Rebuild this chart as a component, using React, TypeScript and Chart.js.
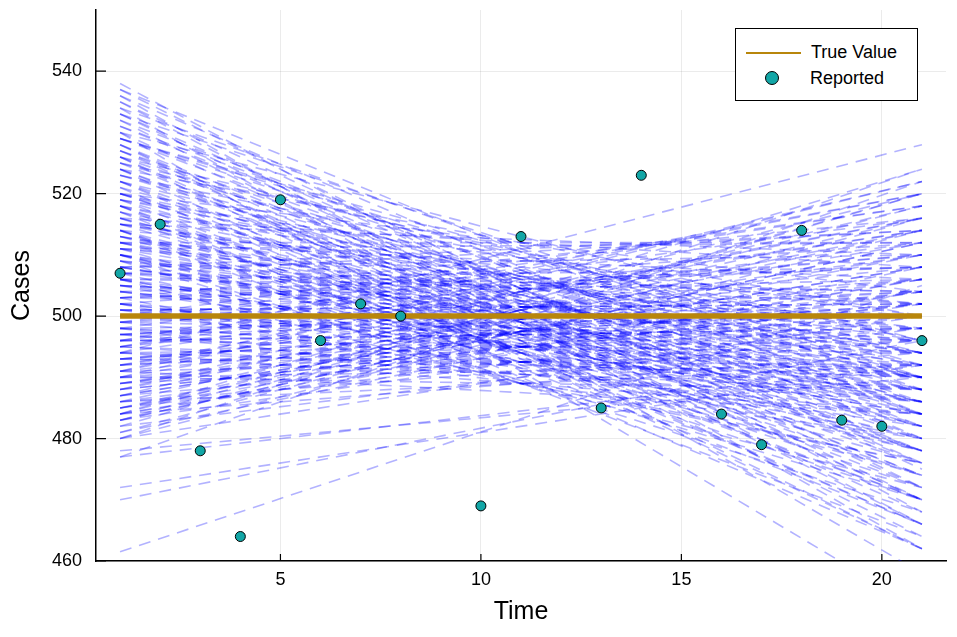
import { useEffect, useRef } from "react";
import { Chart, registerables } from "chart.js";

Chart.register(...registerables);

// observation times and reported counts (gaps where nothing is shown)
const time = [1, 2, 3, 4, 5, 6, 7, 8, 9, 10, 11, 12, 13, 14, 15, 16, 17, 18, 19, 20, 21];
const reported = [507, 515, 478, 464, 519, 496, 502, 500, null, 469, 513, null, 485, 523, null, 484, 479, 514, 483, 482, 496];

const trueTimes = [1, 21];
const trueValue = [500, 500];

// posterior sample lines: value at t=1 and at t=21
const lineStart = [
  538, 537, 536, 535, 534, 533, 532, 531, 530, 530, 529, 528, 528, 527, 526, 526, 525, 524, 524, 523,
  522, 522, 521, 520, 520, 519, 519, 518, 518, 517, 517, 516, 516, 515, 515, 514, 514, 513, 513, 512,
  512, 511, 511, 510, 510, 510, 509, 509, 508, 508, 507, 507, 506, 506, 505, 505, 504, 504, 503, 503,
  502, 502, 501, 501, 500, 500, 499, 499, 498, 498, 497, 497, 496, 496, 495, 495, 494, 494, 493, 493,
  492, 492, 491, 491, 490, 490, 489, 489, 488, 488, 487, 487, 486, 486, 485, 485, 484, 484, 483, 483,
  482, 481, 480, 478, 477, 477, 472, 470, 461.5, 480, 498, 502, 496, 504, 490, 500, 506, 508, 512, 494,
  515, 518, 520, 522, 509, 507, 503, 511, 513, 505, 499, 497, 501, 495, 493, 491, 525, 527, 529, 523,
  526, 524, 520, 516, 512, 508, 530, 534, 536, 532, 514, 506, 500, 496, 492, 488, 484, 498, 494, 490,
  486, 502, 506, 510, 514, 518, 484, 482, 480, 521, 517, 513, 509, 505, 501, 497, 493, 489, 485, 527,
  531, 529, 523, 519, 515, 511, 507, 503, 499, 495, 491, 487, 483, 528, 524, 520, 516, 512, 508, 504,
  500, 496, 492, 488, 484, 535, 533, 537, 510, 506, 502, 498, 494, 490, 486, 518, 514, 510, 526, 522,
  515, 511, 507, 503, 499, 495, 491, 487, 483, 519, 525, 529, 533, 505, 501, 497, 493, 489, 485, 481,
];
const lineEnd = [
  468, 472, 462, 475, 458, 470, 466, 478, 452, 472, 480, 464, 476, 470, 482, 468, 474, 478, 462, 484,
  472, 480, 466, 476, 486, 470, 482, 474, 488, 478, 466, 484, 472, 490, 478, 482, 470, 486, 476, 492,
  480, 474, 488, 484, 478, 494, 482, 470, 490, 486, 478, 496, 484, 490, 480, 498, 486, 492, 476, 500,
  488, 494, 482, 502, 490, 496, 486, 504, 492, 500, 488, 506, 494, 498, 490, 508, 496, 528, 502, 492,
  510, 498, 504, 494, 512, 500, 506, 496, 514, 502, 508, 498, 516, 504, 510, 500, 518, 506, 512, 502,
  520, 508, 514, 490, 522, 492, 492, 496, 505, 524, 516, 512, 520, 508, 522, 518, 504, 510, 506, 514,
  496, 494, 492, 490, 500, 502, 506, 498, 494, 488, 496, 484, 490, 486, 488, 484, 488, 484, 490, 496,
  494, 500, 504, 508, 512, 514, 496, 488, 480, 482, 502, 508, 510, 512, 516, 520, 524, 480, 484, 488,
  492, 476, 472, 468, 464, 462, 494, 498, 500, 486, 490, 492, 494, 496, 498, 500, 502, 504, 506, 478,
  484, 486, 490, 494, 498, 502, 504, 508, 510, 514, 516, 518, 520, 470, 474, 478, 482, 486, 488, 490,
  494, 498, 500, 502, 504, 466, 476, 484, 480, 484, 486, 488, 490, 492, 496, 470, 474, 490, 462, 466,
  510, 512, 514, 516, 518, 520, 522, 508, 512, 500, 496, 492, 490, 500, 502, 504, 506, 510, 514, 516,
];

const xTicks = [5, 10, 15, 20];
const yTicks = [460, 480, 500, 520, 540];

const FONT = "'Liberation Sans', Arial, sans-serif";

const innerTicks = {
  id: "innerTicks",
  afterDatasetsDraw(chart: any) {
    const { ctx, chartArea, scales } = chart;
    ctx.save();
    ctx.strokeStyle = "#000";
    ctx.lineWidth = 1.2;
    ctx.beginPath();
    for (const v of yTicks) {
      const y = scales.y.getPixelForValue(v);
      ctx.moveTo(chartArea.left, y);
      ctx.lineTo(chartArea.left + 10, y);
    }
    for (const v of xTicks) {
      const x = scales.x.getPixelForValue(v);
      ctx.moveTo(x, chartArea.bottom);
      ctx.lineTo(x, chartArea.bottom - 7);
    }
    ctx.stroke();
    ctx.restore();
  },
};

export default function App() {
  const ref = useRef<HTMLCanvasElement>(null);

  useEffect(() => {
    document.body.style.margin = "0";
    if (!ref.current) return;

    const samples = lineStart.map((s, i) => ({
      type: "line" as const,
      label: "sample",
      data: [
        { x: 1, y: s },
        { x: 21, y: lineEnd[i] },
      ],
      borderColor: "rgba(0, 0, 255, 0.3)",
      borderWidth: 1.6,
      borderDash: [12, 8],
      pointRadius: 0,
      order: 3,
    }));

    const chart = new Chart(ref.current, {
      type: "line",
      data: {
        datasets: [
          {
            label: "Reported",
            data: time.map((t, i) => ({ x: t, y: reported[i] })) as any,
            showLine: false,
            pointRadius: 5,
            pointBackgroundColor: "#12a6a6",
            pointBorderColor: "#000",
            pointBorderWidth: 1,
            order: 1,
          },
          {
            label: "True Value",
            data: trueTimes.map((t, i) => ({ x: t, y: trueValue[i] })),
            borderColor: "#b8860b",
            borderWidth: 5.5,
            pointRadius: 0,
            order: 2,
          },
          ...samples,
        ],
      },
      options: {
        animation: false,
        responsive: false,
        events: [],
        layout: { padding: { top: 10, right: 11, left: 0, bottom: 0 } },
        plugins: { legend: { display: false }, tooltip: { enabled: false } },
        scales: {
          x: {
            type: "linear",
            min: 0.4,
            max: 21.6,
            afterBuildTicks: (s: any) => {
              s.ticks = xTicks.map((v) => ({ value: v }));
            },
            afterFit: (s: any) => {
              s.height = 76;
              s.paddingLeft = 0;
              s.paddingRight = 0;
            },
            grid: { color: "rgba(0,0,0,0.08)", lineWidth: 1, drawTicks: false },
            border: { color: "#000", width: 1.5 },
            ticks: { color: "#000", padding: 8, font: { family: FONT, size: 18 } },
            title: {
              display: true,
              text: "Time",
              color: "#000",
              padding: { top: 0, bottom: 10 },
              font: { family: FONT, size: 25 },
            },
          },
          y: {
            type: "linear",
            min: 460,
            max: 550,
            afterBuildTicks: (s: any) => {
              s.ticks = yTicks.map((v) => ({ value: v }));
            },
            afterFit: (s: any) => {
              s.width = 96;
              s.paddingTop = 0;
              s.paddingBottom = 0;
            },
            grid: { color: "rgba(0,0,0,0.08)", lineWidth: 1, drawTicks: false },
            border: { color: "#000", width: 1.5 },
            ticks: { color: "#000", padding: 14, font: { family: FONT, size: 18 } },
            title: {
              display: true,
              text: "Cases",
              color: "#000",
              padding: { top: 7, bottom: 0 },
              font: { family: FONT, size: 25 },
            },
          },
        },
      },
      plugins: [innerTicks],
    });

    return () => {
      chart.destroy();
    };
  }, []);

  return (
    <div style={{ position: "relative", width: 957, height: 637, fontFamily: FONT }}>
      <canvas ref={ref} width={957} height={637}></canvas>
      <div
        style={{
          position: "absolute",
          left: 735,
          top: 28,
          width: 181,
          height: 71,
          border: "1.5px solid #000",
          background: "#fff",
          fontSize: 18,
          color: "#000",
        }}
      >
        <div style={{ position: "absolute", left: 10, top: 23, width: 55, height: 2, background: "#b8860b" }}></div>
        <div style={{ position: "absolute", left: 75, top: 13, lineHeight: "20px" }}>True Value</div>
        <div
          style={{
            position: "absolute",
            left: 29,
            top: 42,
            width: 12,
            height: 12,
            borderRadius: "50%",
            border: "1.5px solid #000",
            background: "#12a6a6",
          }}
        ></div>
        <div style={{ position: "absolute", left: 74, top: 39, lineHeight: "20px" }}>Reported</div>
      </div>
    </div>
  );
}
